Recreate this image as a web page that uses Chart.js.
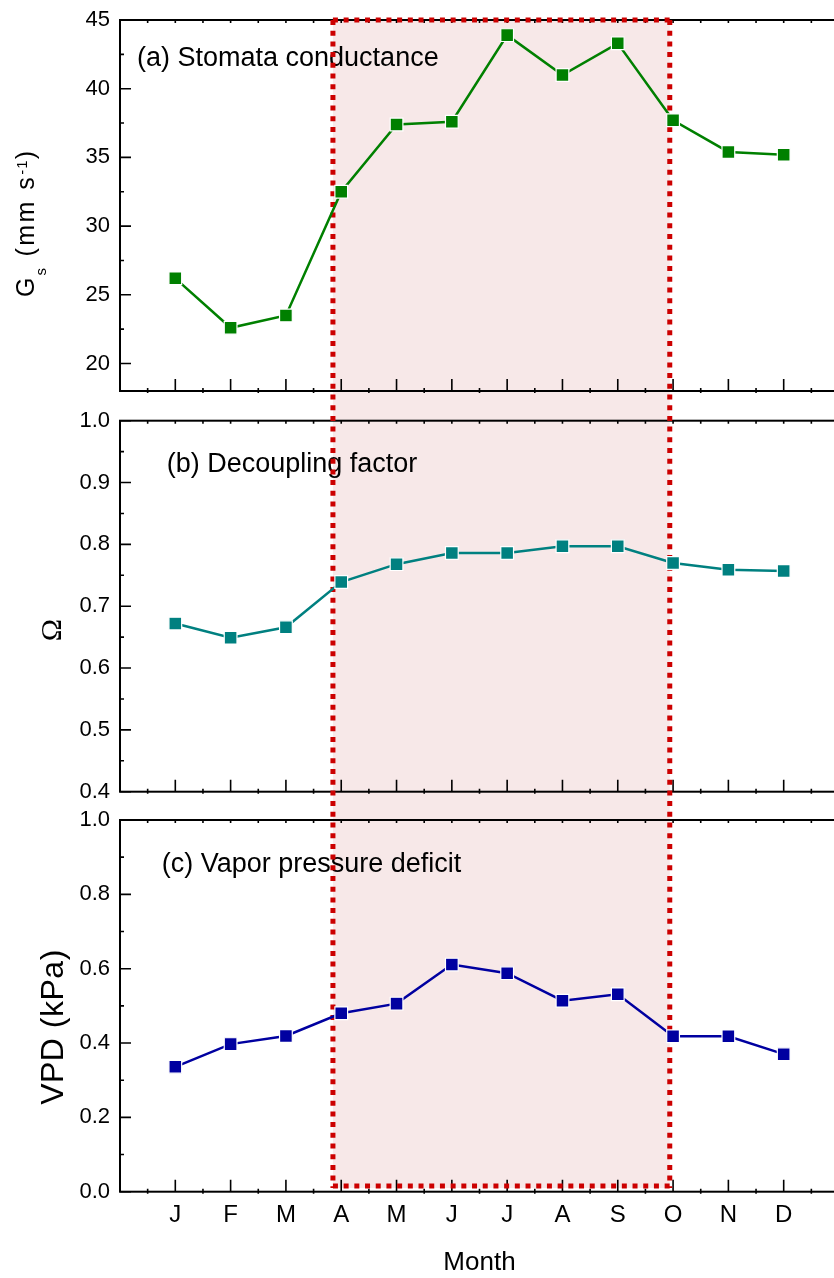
<!DOCTYPE html>
<html lang="en">
<head>
<meta charset="UTF-8">
<title>Gs, Omega and VPD by month</title>
<script src="https://cdn.jsdelivr.net/npm/chart.js"></script>
<style>
    body {
        margin: 0;
        background: #fff;
        width: 834px;
        height: 1278px;
        overflow: hidden;
        position: relative;
    }
    canvas {
        position: absolute;
        left: 0;
    }
</style>
</head>
<body>
<canvas id="gsChart" width="840" height="406" style="top:0px"></canvas>
<canvas id="omegaChart" width="840" height="400" style="top:406px"></canvas>
<canvas id="vpdChart" width="840" height="472" style="top:806px"></canvas>

<script>
// ---- data ----
const months = ['J', 'F', 'M', 'A', 'M', 'J', 'J', 'A', 'S', 'O', 'N', 'D'];
const monthNum = [1, 2, 3, 4, 5, 6, 7, 8, 9, 10, 11, 12];

const gsValues = [26.2, 22.6, 23.5, 32.5, 37.4, 37.6, 43.9, 41.0, 43.3, 37.7, 35.4, 35.2];
const omegaValues = [0.672, 0.649, 0.666, 0.739, 0.768, 0.786, 0.786, 0.797, 0.797, 0.770, 0.759, 0.757];
const vpdValues = [0.336, 0.397, 0.419, 0.480, 0.506, 0.611, 0.588, 0.514, 0.531, 0.418, 0.418, 0.370];

const gsTicks = [20, 25, 30, 35, 40, 45];
const omegaTicks = [0.4, 0.5, 0.6, 0.7, 0.8, 0.9, 1.0];
const vpdTicks = [0.0, 0.2, 0.4, 0.6, 0.8, 1.0];

// shaded growing season, in month units, and its floor on the VPD axis
const seasonSpan = [3.85, 9.94];
const seasonFloor = 0.01;

const FONT = "'Liberation Sans', Arial, sans-serif";
const BOX_TOP = 20;   // page y of the top of the shaded box

Chart.defaults.font.family = FONT;
Chart.defaults.color = '#000';

function midpoints(arr) {
    const out = [];
    for (let i = 0; i < arr.length - 1; i++) out.push((arr[i] + arr[i + 1]) / 2);
    return out;
}

function drawFrame(chart) {
    const {ctx, chartArea: a, scales: {x, y}} = chart;
    const yMajor = y.ticks.map(t => t.value);
    const yMinor = midpoints(yMajor);
    const xMajor = x.ticks.map(t => t.value);
    const xMinor = [xMajor[0] - 0.5].concat(xMajor.map(v => v + 0.5));

    ctx.save();
    ctx.strokeStyle = '#000';
    ctx.lineWidth = 2;
    ctx.strokeRect(a.left, a.top, a.right - a.left, a.bottom - a.top);

    ctx.lineWidth = 1.6;
    ctx.beginPath();
    yMajor.forEach(v => {
        const py = y.getPixelForValue(v);
        ctx.moveTo(a.left, py); ctx.lineTo(a.left + 11, py);
    });
    yMinor.forEach(v => {
        const py = y.getPixelForValue(v);
        ctx.moveTo(a.left, py); ctx.lineTo(a.left + 4, py);
    });
    xMajor.forEach(v => {
        const px = x.getPixelForValue(v);
        ctx.moveTo(px, a.bottom); ctx.lineTo(px, a.bottom - 12);
        ctx.moveTo(px, a.top); ctx.lineTo(px, a.top + 3);
    });
    xMinor.forEach(v => {
        const px = x.getPixelForValue(v);
        ctx.moveTo(px, a.bottom + 2); ctx.lineTo(px, a.bottom - 3);
        ctx.moveTo(px, a.top); ctx.lineTo(px, a.top + 3);
    });
    ctx.stroke();
    ctx.restore();
}

function seasonBox(chart, p) {
    const {chartArea: a, scales: {x, y}} = chart;
    return {
        x0: x.getPixelForValue(seasonSpan[0]),
        x1: x.getPixelForValue(seasonSpan[1]),
        top: p.first ? a.top : 0,
        bottom: p.last ? y.getPixelForValue(seasonFloor) : chart.height
    };
}

function drawRotated(ctx, parts, baseX, centerY) {
    ctx.save();
    let total = 0;
    parts.forEach(q => {
        ctx.font = q.font;
        ctx.letterSpacing = q.spacing || '0px';
        q.w = ctx.measureText(q.t).width;
        total += q.w;
    });
    ctx.translate(baseX, centerY);
    ctx.rotate(-Math.PI / 2);
    ctx.fillStyle = '#000';
    ctx.textBaseline = 'alphabetic';
    let cx = -total / 2;
    parts.forEach(q => {
        ctx.font = q.font;
        ctx.letterSpacing = q.spacing || '0px';
        ctx.fillText(q.t, cx, q.dy || 0);
        cx += q.w;
    });
    ctx.restore();
}

function makePanel(canvasId, p) {
    const plugin = {
        id: 'panelDecor',
        beforeDraw(chart) {
            const {ctx} = chart;
            const b = seasonBox(chart, p);
            ctx.save();
            ctx.fillStyle = '#f7e8e8';
            ctx.fillRect(b.x0, b.top, b.x1 - b.x0, b.bottom - b.top);
            ctx.restore();
        },
        beforeDatasetsDraw(chart) {
            const {ctx} = chart;
            drawFrame(chart);

            ctx.save();
            ctx.fillStyle = '#000';
            ctx.font = '27px ' + FONT;
            ctx.textBaseline = 'alphabetic';
            ctx.fillText(p.label, p.labelAt[0], p.labelAt[1] - p.pageTop);
            ctx.restore();

            // red dotted outline of the season box
            const b = seasonBox(chart, p);
            const start = BOX_TOP - p.pageTop;
            ctx.save();
            ctx.strokeStyle = '#cc0000';
            ctx.lineWidth = 5;
            ctx.setLineDash([5, 5.7]);
            ctx.beginPath();
            ctx.moveTo(b.x0, start); ctx.lineTo(b.x0, b.bottom);
            ctx.moveTo(b.x1, start); ctx.lineTo(b.x1, b.bottom);
            if (p.first) { ctx.moveTo(b.x0, b.top); ctx.lineTo(b.x1, b.top); }
            if (p.last) { ctx.moveTo(b.x0, b.bottom - 2); ctx.lineTo(b.x1, b.bottom - 2); }
            ctx.stroke();
            ctx.restore();
        },
        afterDraw(chart) {
            p.drawTitle(chart.ctx, p.pageTop);
        }
    };

    return new Chart(document.getElementById(canvasId), {
        type: 'line',
        data: {
            datasets: [{
                data: monthNum.map((m, i) => ({x: m, y: p.values[i]})),
                borderColor: p.color,
                borderWidth: 2.5,
                pointStyle: 'rect',
                pointRadius: 9,
                pointBackgroundColor: p.color,
                pointBorderColor: '#fff',
                pointBorderWidth: 1.2,
                tension: 0
            }]
        },
        options: {
            responsive: false,
            animation: false,
            layout: {
                autoPadding: false,
                padding: {top: p.plotTop - p.pageTop, right: 1, bottom: 0, left: 0}
            },
            plugins: {legend: {display: false}, tooltip: {enabled: false}},
            scales: {
                x: {
                    type: 'linear',
                    min: 0,
                    max: 13,
                    grid: {display: false, drawTicks: false},
                    border: {display: false},
                    afterBuildTicks: s => { s.ticks = monthNum.map(v => ({value: v})); },
                    afterFit: s => {
                        s.height = p.pageTop + p.height - p.plotBottom;
                        s.paddingLeft = 0; s.paddingRight = 0;
                    },
                    ticks: {
                        display: p.last,
                        autoSkip: false,
                        maxRotation: 0,
                        padding: 9,
                        font: {size: 24},
                        callback: (v, i) => months[i]
                    },
                    title: {
                        display: p.last,
                        text: 'Month',
                        font: {size: 26},
                        padding: 0
                    }
                },
                y: {
                    min: p.yMin,
                    max: p.yMax,
                    grid: {display: false, drawTicks: false},
                    border: {display: false},
                    afterBuildTicks: s => { s.ticks = p.yTicks.map(v => ({value: v})); },
                    afterFit: s => {
                        s.width = 120;
                        s.paddingTop = 0; s.paddingBottom = 0;
                    },
                    ticks: {
                        autoSkip: false,
                        padding: 10,
                        font: {size: 22},
                        callback: v => Number(v).toFixed(p.decimals)
                    }
                }
            }
        },
        plugins: [plugin]
    });
}

makePanel('gsChart', {
    pageTop: 0, height: 406, plotTop: 20, plotBottom: 391,
    first: true, last: false,
    values: gsValues, color: '#008000',
    yMin: 18, yMax: 45, yTicks: gsTicks, decimals: 0,
    label: '(a) Stomata conductance', labelAt: [137, 66],
    drawTitle: (ctx, top) => drawRotated(ctx, [
        {t: 'G', font: '25px ' + FONT, spacing: '2px'},
        {t: 's', font: '15px ' + FONT, dy: 12, spacing: '2px'},
        {t: ' (mm s', font: '25px ' + FONT, spacing: '2.5px'},
        {t: '-1', font: '15px ' + FONT, dy: -7, spacing: '1px'},
        {t: ')', font: '25px ' + FONT}
    ], 34, 224 - top)
});

makePanel('omegaChart', {
    pageTop: 406, height: 400, plotTop: 420.7, plotBottom: 791.7,
    first: false, last: false,
    values: omegaValues, color: '#008080',
    yMin: 0.4, yMax: 1.0, yTicks: omegaTicks, decimals: 1,
    label: '(b) Decoupling factor', labelAt: [166.7, 472],
    drawTitle: (ctx, top) => drawRotated(ctx, [
        {t: 'Ω', font: "30px 'Liberation Serif', serif"}
    ], 61, 630 - top)
});

makePanel('vpdChart', {
    pageTop: 806, height: 472, plotTop: 820, plotBottom: 1191.7,
    first: false, last: true,
    values: vpdValues, color: '#0000a0',
    yMin: 0, yMax: 1.0, yTicks: vpdTicks, decimals: 1,
    label: '(c) Vapor pressure deficit', labelAt: [161.7, 871.7],
    drawTitle: (ctx, top) => drawRotated(ctx, [
        {t: 'VPD (kPa)', font: '32px ' + FONT, spacing: '0.5px'}
    ], 63, 1027 - top)
});
</script>
</body>
</html>
